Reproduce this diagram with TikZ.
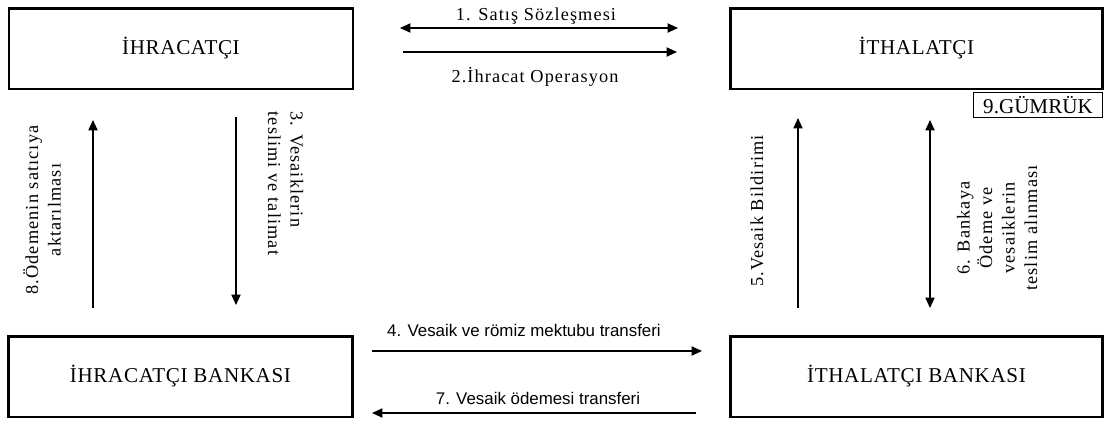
\documentclass[tikz,border=0pt]{standalone}
\usepackage{fontspec}
\setmainfont{Liberation Serif}
\newfontfamily\boxfont[LetterSpace=3]{Liberation Serif}
\newfontfamily\lblfont[LetterSpace=6]{Liberation Serif}
\newfontfamily\sanslbl{Liberation Sans}
\usetikzlibrary{arrows.meta, positioning}

\begin{document}
\begin{tikzpicture}[x=0.025cm, y=-0.025cm, >={Triangle[length=2.6mm,width=2.3mm]}, line width=1pt,
    party/.style={draw, line width=2pt, inner sep=0pt, minimum height=2.02cm, font=\boxfont\fontsize{15}{18}\selectfont},
    lbl/.style={inner sep=0pt, font=\lblfont\fontsize{13}{16}\selectfont},
    slbl/.style={inner sep=0pt, font=\sanslbl\fontsize{12}{14}\selectfont}]
    \useasboundingbox (0,0) rectangle (1107,423);
    \node[party, minimum width=8.6cm] (ihr) at (181,48.5) {İHRACATÇI};
    \node[party, minimum width=9.28cm] (ith) at (916.5,48.5) {İTHALATÇI};
    \node[party, minimum width=8.58cm] (ihrb) at (180.5,376.5) {İHRACATÇI BANKASI};
    \node[party, minimum width=9.28cm] (ithb) at (916.5,376.5) {İTHALATÇI BANKASI};
    \node[draw, line width=0.8pt, inner sep=0pt, minimum width=3.22cm, minimum height=0.62cm,
          font=\fontsize{15}{18}\selectfont] (gmr) at (1038,105) {9.GÜMRÜK};

    \coordinate (s1a) at (400,28);  \coordinate (s1b) at (678,28);
    \coordinate (s2a) at (403,52);  \coordinate (s2b) at (677,52);
    \coordinate (s3a) at (236,117); \coordinate (s3b) at (236,305);
    \coordinate (s4a) at (372,351); \coordinate (s4b) at (702,351);
    \coordinate (s5a) at (798,308); \coordinate (s5b) at (798,118);
    \coordinate (s6a) at (930,120); \coordinate (s6b) at (930,308);
    \coordinate (s7a) at (696,413); \coordinate (s7b) at (372,413);
    \coordinate (s8a) at (93,308);  \coordinate (s8b) at (93,120);

    \draw[<->] (s1a) -- (s1b);
    \draw[->] (s2a) -- (s2b);
    \draw[->] (s3a) -- (s3b);
    \draw[->] (s4a) -- (s4b);
    \draw[->] (s5a) -- (s5b);
    \draw[<->] (s6a) -- (s6b);
    \draw[->] (s7a) -- (s7b);
    \draw[->] (s8a) -- (s8b);

    \node[lbl] (l1) at (536,16) {1. Satış Sözleşmesi};
    \node[lbl] (l2) at (535,77) {2.İhracat Operasyon};
    \node[lbl, rotate=-90, align=left, anchor=north west] (l3) at (304,111) {3. Vesaiklerin\\teslimi ve talimat};
    \node[slbl] (l4) at (524,330) {4. Vesaik ve römiz mektubu transferi};
    \node[lbl, rotate=90] (l5) at (757,211) {5.Vesaik Bildirimi};
    \node[lbl, rotate=90, align=center] (l6) at (997,228) {6. Bankaya\\Ödeme ve\\vesaiklerin\\teslim alınması};
    \node[slbl] (l7) at (538,398) {7. Vesaik ödemesi transferi};
    \node[lbl, rotate=90, align=center] (l8) at (42,210) {8.Ödemenin satıcıya\\aktarılması};
\end{tikzpicture}
\end{document}
